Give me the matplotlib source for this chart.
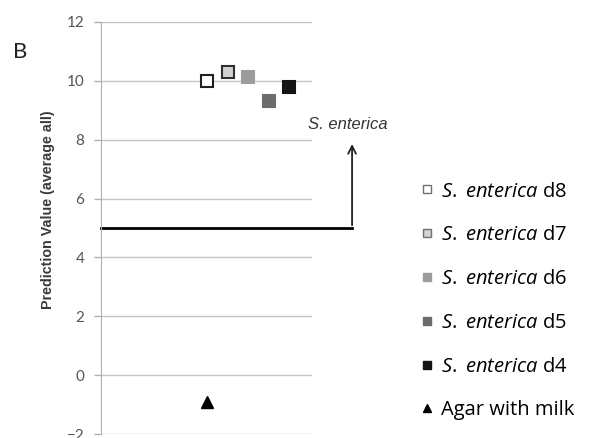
import matplotlib as mpl
import matplotlib.pyplot as plt
from matplotlib.lines import Line2D

# prediction values per sample (average over all sensors)
labels = ['d8', 'd7', 'd6', 'd5', 'd4']
xpos = [5, 6, 7, 8, 9]
values = [10.0, 10.3, 10.13, 9.32, 9.8]
faces = ['#ffffff', '#d2d2d2', '#9c9c9c', '#6c6c6c', '#141414']
edges = ['#202020', '#303030', '#9c9c9c', '#6c6c6c', '#141414']

control_x = 5
control_y = -0.92
threshold = 5

mpl.rcParams['mathtext.fontset'] = 'custom'
mpl.rcParams['mathtext.it'] = 'Open Sans:italic'
mpl.rcParams['mathtext.rm'] = 'Open Sans'

fig = plt.figure(figsize=(5.96, 4.38), dpi=100)
ax = fig.add_axes([0.1695, 0.009, 0.354, 0.9408])

ax.set_ylim(-2, 12)
ax.set_xlim(-0.17, 10.1)
ax.set_yticks(range(-2, 13, 2))
ax.set_xticks([])
ax.grid(axis='y', color='#c4c4c4', linewidth=1)
ax.set_axisbelow(True)
for s in ['top', 'right', 'bottom']:
    ax.spines[s].set_visible(False)
ax.spines['left'].set_color('#b0b0b0')
ax.tick_params(axis='y', length=5, width=1, color='#b0b0b0', pad=7,
               labelsize=11, labelcolor='#555555')
for t in ax.get_yticklabels():
    t.set_fontfamily('Lato')

for x, v, fc, ec in zip(xpos, values, faces, edges):
    ax.plot(x, v, 's', ms=9, mfc=fc, mec=ec, mew=1.5, zorder=3)
ax.plot(control_x, control_y, '^', ms=8, color='black', zorder=3)

# threshold line with arrow pointing to the S. enterica region
ax.plot([-0.17, 12.05], [threshold, threshold], color='black', lw=2,
        clip_on=False)
ax.annotate('', xy=(12.05, 7.95), xytext=(12.05, threshold),
            arrowprops=dict(arrowstyle='->', color='#222222', lw=1.3,
                            mutation_scale=14),
            annotation_clip=False)
ax.text(11.85, 8.52, 'S. enterica', fontsize=12, style='italic',
        family='Liberation Sans', color='#333333', ha='center', va='center',
        bbox=dict(fc='white', ec='none', pad=2))

ax.set_ylabel('Prediction Value (average all)', fontsize=10.3, weight='bold',
              family='Liberation Sans', color='#3a3a3a')
ax.yaxis.set_label_coords(-0.216, 0.544)

fig.text(0.022, 0.868, 'B', fontsize=16, family='Lato', color='#222222')

handles = []
for lab, fc, ec in zip(labels, faces, edges):
    mec = '#707070' if fc in ('#ffffff', '#d2d2d2') else ec
    handles.append(Line2D([], [], ls='none', marker='s', ms=6, mfc=fc,
                          mec=mec, mew=1,
                          label=r'$\it{S.}$ $\it{enterica}$ ' + lab))
handles.append(Line2D([], [], ls='none', marker='^', ms=6, color='black',
                      label='Agar with milk'))
leg = fig.legend(handles=handles, loc='upper left',
                 bbox_to_anchor=(0.686, 0.604), frameon=False,
                 prop={'family': 'Open Sans', 'size': 14.5}, labelspacing=1.18,
                 handletextpad=0.2, handlelength=1.0, borderaxespad=0)

fig.savefig('out.png', dpi=100)
